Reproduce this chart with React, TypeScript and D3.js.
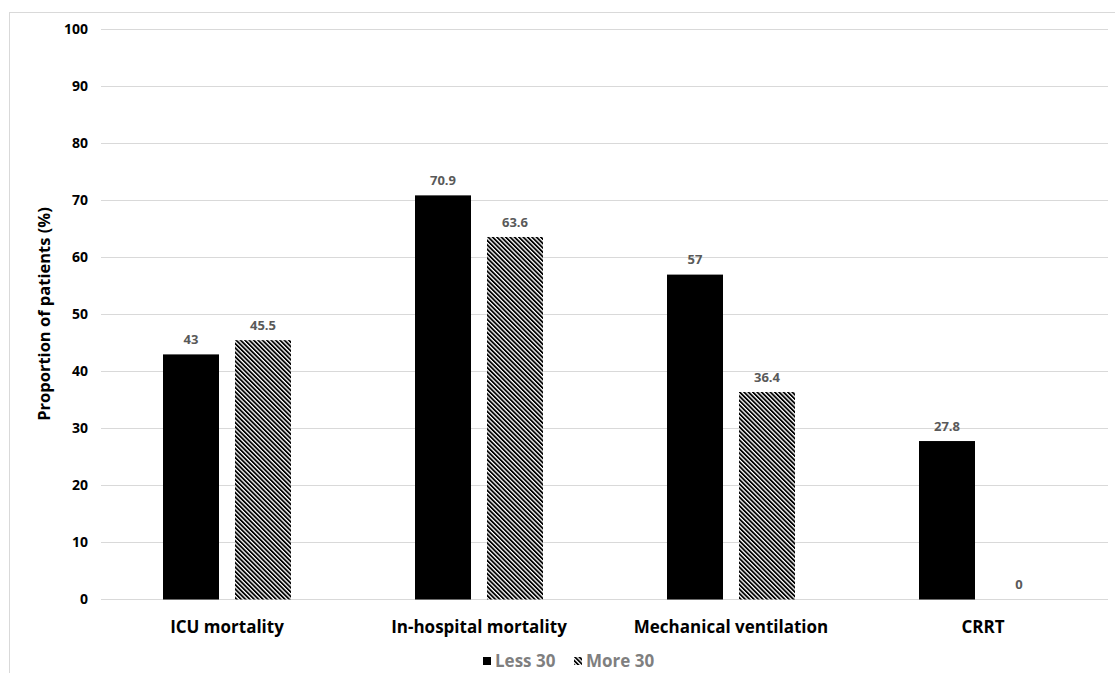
import React from "react";
import * as d3 from "d3";

const categories = ["ICU mortality", "In-hospital mortality", "Mechanical ventilation", "CRRT"];
const seriesNames = ["Less 30", "More 30"];
const less30 = [43, 70.9, 57, 27.8];
const more30 = [45.5, 63.6, 36.4, 0];
const yTicks = [0, 10, 20, 30, 40, 50, 60, 70, 80, 90, 100];

const W = 1115;
const H = 673;
const FONT = "'Open Sans', 'Noto Sans', sans-serif";

export default function App() {
  const x0 = d3.scaleBand<string>().domain(categories).range([101, 1109]).paddingInner(0).paddingOuter(0);
  const y = d3.scaleLinear().domain([0, 100]).range([599.5, 29.5]);
  const barW = 56;
  const gap = 16;
  const series = [less30, more30];

  return (
    <svg width={W} height={H} style={{ position: "absolute", left: 0, top: 0, background: "#fff" }}>
      <defs>
        <pattern id="diag" width="3.1" height="8" patternUnits="userSpaceOnUse" patternTransform="rotate(-45)">
          <rect width="3.1" height="8" fill="#fff" />
          <rect width="1.8" height="8" fill="#000" />
        </pattern>
      </defs>
      <rect x={9.5} y={12.5} width={W} height={H} fill="#fff" stroke="#d9d9d9" strokeWidth={1} />
      {yTicks.map((t) => (
        <g key={t}>
          <line x1={101} x2={1108} y1={y(t)} y2={y(t)} stroke="#d9d9d9" strokeWidth={1} />
          <text x={88} y={y(t)} dy="0.35em" textAnchor="end" fontFamily={FONT} fontWeight="bold" fontSize={14} fill="#000">
            {t}
          </text>
        </g>
      ))}
      {categories.map((c, i) => {
        const cx = (x0(c) as number) + x0.bandwidth() / 2;
        return (
          <g key={c}>
            {series.map((s, si) => {
              const bx = cx - gap / 2 - barW + si * (barW + gap);
              const v = s[i];
              return (
                <g key={si}>
                  <rect x={bx} y={y(v)} width={barW} height={y(0) - y(v)} fill={si === 0 ? "#000" : "url(#diag)"} />
                  <text x={bx + barW / 2} y={y(v) - 15} dy="0.35em" textAnchor="middle" fontFamily={FONT} fontWeight="bold" fontSize={13} fill="#595959">
                    {v}
                  </text>
                </g>
              );
            })}
            <text x={cx} y={627} dy="0.35em" textAnchor="middle" fontFamily={FONT} fontWeight="bold" fontSize={17} fill="#000">
              {c}
            </text>
          </g>
        );
      })}
      <text transform={`translate(44,314) rotate(-90)`} textAnchor="middle" dy="0.35em" fontFamily={FONT} fontWeight="bold" fontSize={16.5} fill="#000">
        Proportion of patients (%)
      </text>
      <g>
        <rect x={483} y={657} width={8} height={8} fill="#000" />
        <text x={495} y={661} dy="0.35em" fontFamily={FONT} fontWeight="bold" fontSize={17} fill="#7f7f7f">
          {seriesNames[0]}
        </text>
        <rect x={574} y={657} width={8} height={8} fill="url(#diag)" />
        <text x={586} y={661} dy="0.35em" fontFamily={FONT} fontWeight="bold" fontSize={17} fill="#7f7f7f">
          {seriesNames[1]}
        </text>
      </g>
    </svg>
  );
}
